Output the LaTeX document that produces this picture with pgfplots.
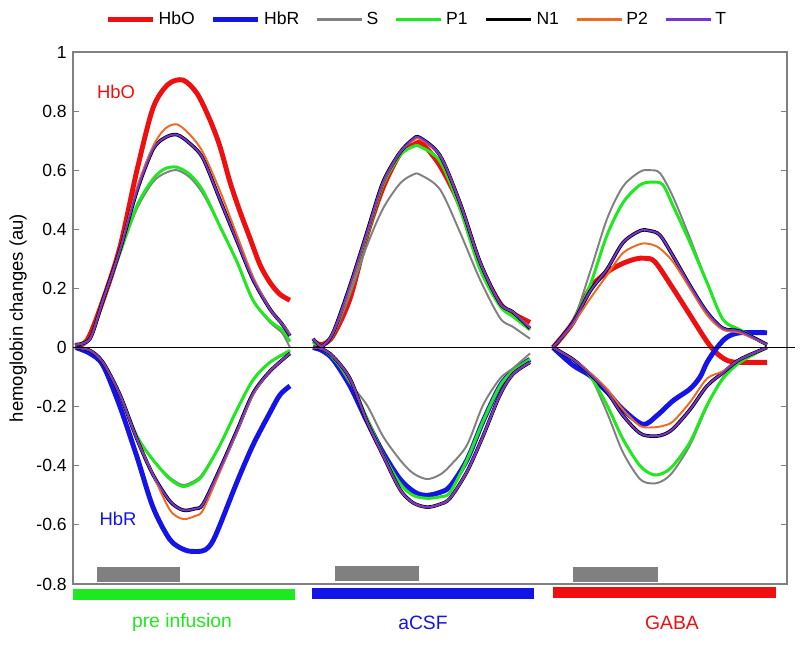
\documentclass[border=0pt]{standalone}
\usepackage{fontspec}
\setmainfont{Liberation Sans}
\usepackage{pgfplots}
\pgfplotsset{compat=1.18}

\definecolor{hboc}{RGB}{238,16,16}
\definecolor{hbrc}{RGB}{20,20,232}
\definecolor{sc}{RGB}{128,128,128}
\definecolor{ponec}{RGB}{30,232,30}
\definecolor{ptwoc}{RGB}{240,105,35}
\definecolor{tc}{RGB}{120,50,215}
\definecolor{spine}{RGB}{128,128,128}

\begin{document}
\begin{tikzpicture}
\begin{axis}[
    scale only axis,
    width=14.28cm, height=10.64cm,
    xmin=73, xmax=787, ymin=-0.8, ymax=1,
    xtick=\empty,
    ytick={-0.8,-0.6,-0.4,-0.2,0,0.2,0.4,0.6,0.8,1},
    yticklabel style={/pgf/number format/fixed, font=\fontsize{10}{12}\selectfont},
    /pgf/number format/assume math mode=true,
    tick align=inside,
    major tick length=0.12cm,
    axis line style={draw=spine, line width=0.7pt},
    tick style={draw=spine, line width=0.6pt},
    ylabel={hemoglobin changes (au)},
    every axis y label/.style={at={(rel axis cs:-0.077,0.5)}, rotate=90, anchor=center,
        font=\fontsize{10.5}{12}\selectfont},
    clip=false,
    unbounded coords=jump,
    legend columns=-1,
    legend style={at={(rel axis cs:0.483,1.061)}, anchor=center, draw=none, fill=none,
        font=\fontsize{10}{12}\selectfont,
        /tikz/every even column/.append style={column sep=0.26cm}},
    legend image code/.code={\draw[#1] (0cm,0cm) -- (0.9cm,0cm);},
]
\addlegendimage{color=hboc, line width=2.4pt}
\addlegendentry{HbO}
\addlegendimage{color=hbrc, line width=2.4pt}
\addlegendentry{HbR}
\addlegendimage{color=sc, line width=1.4pt}
\addlegendentry{S}
\addlegendimage{color=ponec, line width=1.5pt}
\addlegendentry{P1}
\addlegendimage{color=black, line width=2.2pt}
\addlegendentry{N1}
\addlegendimage{color=ptwoc, line width=1.4pt}
\addlegendentry{P2}
\addlegendimage{color=tc, line width=1.4pt}
\addlegendentry{T}

% HbO
\addplot[draw=hboc, line width=2.8pt, smooth, forget plot] coordinates {
  (76,0) (88,0.03) (103,0.16) (120,0.34) (137,0.60) (153,0.81) (168,0.89) (183,0.905)
  (197,0.86) (210,0.77) (220,0.68) (230,0.56) (240,0.46) (250,0.37) (260,0.28) (270,0.22)
  (280,0.18) (290,0.16)
  (300,nan)
  (314,0.02) (322,0.01) (333,0.04) (350,0.165) (367,0.38) (383,0.54) (400,0.655) (413,0.685)
  (422,0.69) (440,0.615) (460,0.48) (480,0.28) (500,0.15) (513,0.115) (530,0.085)
  (540,nan)
  (553,0) (573,0.085) (590,0.20) (607,0.255) (623,0.285) (636,0.30) (645,0.302) (655,0.29) (673,0.20)
  (690,0.11) (707,0.02) (717,-0.02) (728,-0.045) (740,-0.05) (767,-0.05)
};

% HbR
\addplot[draw=hbrc, line width=2.8pt, smooth, forget plot] coordinates {
  (76,0) (90,-0.02) (103,-0.06) (120,-0.20) (137,-0.37) (153,-0.54) (170,-0.65) (185,-0.685)
  (197,-0.69) (205,-0.685) (212,-0.66) (220,-0.60) (237,-0.455) (253,-0.33) (270,-0.22)
  (280,-0.16) (290,-0.13)
  (300,nan)
  (313,0) (322,-0.01) (333,-0.04) (350,-0.13) (367,-0.25) (383,-0.355) (400,-0.445) (415,-0.49)
  (427,-0.50) (440,-0.49) (450,-0.47) (467,-0.38) (483,-0.25) (500,-0.13) (513,-0.08) (530,-0.04)
  (540,nan)
  (553,0) (573,-0.06) (590,-0.095) (607,-0.15) (623,-0.21) (643,-0.26) (657,-0.23) (673,-0.18)
  (690,-0.14) (700,-0.10) (707,-0.05) (717,0) (727,0.035) (740,0.05) (767,0.05)
};

% S
\addplot[draw=sc, line width=1.1pt, smooth, forget plot] coordinates {
  (75,0) (90,0.03) (103,0.16) (120,0.32) (137,0.47) (153,0.56) (165,0.59) (177,0.60) (190,0.575)
  (203,0.52) (220,0.41) (237,0.29) (253,0.16) (270,0.085) (282,0.05) (290,0)
  (295,nan)
  (75,0) (90,-0.01) (103,-0.05) (120,-0.16) (137,-0.30) (153,-0.38) (170,-0.44) (183,-0.465)
  (195,-0.45) (203,-0.425) (220,-0.33) (237,-0.21) (253,-0.11) (270,-0.05) (290,-0.015)
  (300,nan)
  (313,0.02) (322,0.005) (333,0.04) (350,0.18) (367,0.345) (383,0.47) (400,0.555) (413,0.585)
  (420,0.585) (440,0.535) (460,0.39) (480,0.23) (500,0.10) (513,0.07) (530,0.03)
  (535,nan)
  (313,0) (322,-0.005) (333,-0.03) (350,-0.12) (367,-0.195) (383,-0.30) (400,-0.38) (413,-0.425)
  (427,-0.445) (440,-0.43) (450,-0.40) (467,-0.33) (483,-0.195) (500,-0.105) (513,-0.07) (530,-0.02)
  (540,nan)
  (553,0) (573,0.09) (590,0.255) (607,0.435) (623,0.545) (640,0.595) (650,0.60) (660,0.59)
  (673,0.51) (690,0.37) (707,0.22) (723,0.095) (740,0.055) (767,0.01)
  (770,nan)
  (553,0) (573,-0.04) (590,-0.095) (607,-0.22) (623,-0.355) (640,-0.445) (653,-0.46) (663,-0.45)
  (673,-0.42) (690,-0.33) (707,-0.20) (723,-0.10) (740,-0.05) (767,0)
};

% P1
\addplot[draw=ponec, line width=1.7pt, smooth, forget plot] coordinates {
  (75,0.01) (90,0.03) (103,0.16) (120,0.32) (137,0.48) (153,0.57) (165,0.605) (177,0.61)
  (190,0.585) (203,0.53) (220,0.41) (237,0.29) (253,0.16) (270,0.09) (282,0.06) (290,0.02)
  (295,nan)
  (75,0) (90,-0.01) (103,-0.05) (120,-0.16) (137,-0.30) (153,-0.38) (170,-0.445) (183,-0.47)
  (195,-0.455) (203,-0.43) (220,-0.33) (237,-0.21) (253,-0.11) (270,-0.05) (290,-0.01)
  (300,nan)
  (313,0.02) (322,0.005) (333,0.05) (350,0.20) (367,0.38) (383,0.55) (400,0.65) (413,0.68)
  (420,0.68) (440,0.63) (460,0.47) (480,0.265) (500,0.14) (513,0.105) (530,0.06)
  (535,nan)
  (313,0) (322,-0.005) (333,-0.035) (350,-0.11) (367,-0.24) (383,-0.36) (400,-0.46) (413,-0.50)
  (427,-0.51) (440,-0.505) (450,-0.49) (467,-0.38) (483,-0.25) (500,-0.13) (513,-0.08) (530,-0.04)
  (540,nan)
  (553,0) (573,0.085) (590,0.21) (607,0.38) (623,0.49) (640,0.55) (653,0.56) (663,0.55)
  (673,0.48) (690,0.355) (707,0.22) (723,0.095) (740,0.06) (767,0.01)
  (770,nan)
  (553,0) (573,-0.04) (590,-0.095) (607,-0.195) (623,-0.31) (640,-0.40) (653,-0.43) (663,-0.425)
  (673,-0.40) (690,-0.32) (707,-0.195) (723,-0.105) (740,-0.05) (767,0)
};

% N1
\addplot[draw=black, line width=2pt, smooth, forget plot] coordinates {
  (75,0.01) (90,0.03) (103,0.16) (120,0.33) (137,0.53) (153,0.67) (165,0.71) (177,0.72)
  (190,0.69) (203,0.64) (220,0.50) (237,0.36) (253,0.23) (270,0.13) (282,0.08) (290,0.04)
  (295,nan)
  (75,0) (90,-0.01) (103,-0.05) (120,-0.16) (137,-0.31) (153,-0.43) (170,-0.52) (183,-0.55)
  (195,-0.545) (203,-0.53) (220,-0.41) (237,-0.28) (253,-0.155) (270,-0.08) (290,-0.02)
  (300,nan)
  (313,0.03) (322,0.005) (333,0.05) (350,0.21) (367,0.39) (383,0.56) (400,0.66) (413,0.705)
  (420,0.71) (440,0.65) (460,0.49) (480,0.29) (500,0.15) (513,0.12) (530,0.065)
  (535,nan)
  (313,0) (322,-0.005) (333,-0.03) (350,-0.105) (367,-0.25) (383,-0.365) (400,-0.48) (413,-0.525)
  (427,-0.54) (440,-0.53) (450,-0.51) (467,-0.42) (483,-0.30) (500,-0.16) (513,-0.09) (530,-0.05)
  (540,nan)
  (553,0) (573,0.085) (590,0.19) (607,0.265) (623,0.355) (640,0.395) (650,0.395) (660,0.38)
  (673,0.31) (690,0.21) (707,0.12) (723,0.065) (740,0.055) (767,0.01)
  (770,nan)
  (553,0) (573,-0.04) (590,-0.09) (607,-0.15) (623,-0.23) (640,-0.29) (653,-0.30) (663,-0.295)
  (673,-0.275) (690,-0.21) (707,-0.13) (723,-0.085) (740,-0.04) (767,0)
};

% P2
\addplot[draw=ptwoc, line width=1.1pt, smooth, forget plot] coordinates {
  (75,0.01) (90,0.03) (103,0.16) (120,0.33) (137,0.54) (153,0.68) (165,0.74) (177,0.755)
  (190,0.72) (203,0.66) (220,0.53) (237,0.38) (253,0.24) (270,0.13) (282,0.08) (290,0.045)
  (295,nan)
  (75,0) (90,-0.01) (103,-0.05) (120,-0.16) (137,-0.31) (153,-0.43) (170,-0.55) (183,-0.58)
  (195,-0.57) (203,-0.55) (220,-0.42) (237,-0.285) (253,-0.16) (270,-0.08) (290,-0.02)
  (300,nan)
  (313,0.03) (322,0.005) (333,0.05) (350,0.20) (367,0.385) (383,0.555) (400,0.66) (413,0.70)
  (420,0.705) (440,0.65) (460,0.49) (480,0.29) (500,0.15) (513,0.12) (530,0.07)
  (535,nan)
  (313,0) (322,-0.005) (333,-0.03) (350,-0.105) (367,-0.25) (383,-0.365) (400,-0.48) (413,-0.525)
  (427,-0.54) (440,-0.53) (450,-0.51) (467,-0.42) (483,-0.30) (500,-0.16) (513,-0.09) (530,-0.05)
  (540,nan)
  (553,0) (573,0.08) (590,0.165) (607,0.245) (623,0.32) (640,0.35) (650,0.35) (660,0.335)
  (673,0.29) (690,0.20) (707,0.11) (723,0.06) (740,0.05) (767,0.01)
  (770,nan)
  (553,0) (573,-0.04) (590,-0.085) (607,-0.14) (623,-0.21) (640,-0.265) (653,-0.27) (663,-0.265)
  (673,-0.25) (690,-0.185) (707,-0.105) (723,-0.08) (740,-0.04) (767,0)
};

% T
\addplot[draw=tc, line width=1.1pt, smooth, forget plot] coordinates {
  (75,0.01) (90,0.03) (103,0.16) (120,0.33) (137,0.53) (153,0.67) (165,0.71) (177,0.72)
  (190,0.69) (203,0.64) (220,0.50) (237,0.36) (253,0.23) (270,0.13) (282,0.08) (290,0.04)
  (295,nan)
  (75,0) (90,-0.01) (103,-0.05) (120,-0.16) (137,-0.31) (153,-0.43) (170,-0.52) (183,-0.55)
  (195,-0.545) (203,-0.53) (220,-0.41) (237,-0.28) (253,-0.155) (270,-0.08) (290,-0.02)
  (300,nan)
  (313,0.03) (322,0.005) (333,0.05) (350,0.21) (367,0.39) (383,0.56) (400,0.66) (413,0.705)
  (420,0.71) (440,0.65) (460,0.49) (480,0.29) (500,0.15) (513,0.12) (530,0.065)
  (535,nan)
  (313,0) (322,-0.005) (333,-0.03) (350,-0.105) (367,-0.25) (383,-0.365) (400,-0.48) (413,-0.525)
  (427,-0.54) (440,-0.53) (450,-0.51) (467,-0.42) (483,-0.30) (500,-0.16) (513,-0.09) (530,-0.05)
  (540,nan)
  (553,0) (573,0.085) (590,0.19) (607,0.265) (623,0.355) (640,0.395) (650,0.395) (660,0.38)
  (673,0.31) (690,0.21) (707,0.12) (723,0.065) (740,0.055) (767,0.01)
  (770,nan)
  (553,0) (573,-0.04) (590,-0.09) (607,-0.15) (623,-0.23) (640,-0.29) (653,-0.30) (663,-0.295)
  (673,-0.275) (690,-0.21) (707,-0.13) (723,-0.085) (740,-0.04) (767,0)
};

% zero line
\addplot[black, line width=0.9pt, forget plot] coordinates {(73,0) (795,0)};

% stimulus bars
\addplot[fill=sc, draw=none, forget plot] coordinates {(97,-0.742) (180,-0.742) (180,-0.793) (97,-0.793)} -- cycle;
\addplot[fill=sc, draw=none, forget plot] coordinates {(335,-0.738) (419,-0.738) (419,-0.790) (335,-0.790)} -- cycle;
\addplot[fill=sc, draw=none, forget plot] coordinates {(573,-0.742) (658,-0.742) (658,-0.793) (573,-0.793)} -- cycle;

% condition bars below the axis
\addplot[fill=ponec, draw=none, forget plot] coordinates {(73,-0.817) (295,-0.817) (295,-0.854) (73,-0.854)} -- cycle;
\addplot[fill=hbrc, draw=none, forget plot] coordinates {(312,-0.814) (534,-0.814) (534,-0.851) (312,-0.851)} -- cycle;
\addplot[fill=hboc, draw=none, forget plot] coordinates {(553,-0.810) (776,-0.810) (776,-0.847) (553,-0.847)} -- cycle;

\node[text=hboc, font=\fontsize{10.5}{12}\selectfont] at (axis cs:116,0.865) {HbO};
\node[text=hbrc, font=\fontsize{10.5}{12}\selectfont] at (axis cs:118,-0.58) {HbR};
\node[text=ponec, font=\fontsize{11}{13}\selectfont] at (axis cs:182,-0.93) {pre infusion};
\node[text=hbrc, font=\fontsize{11}{13}\selectfont] at (axis cs:423,-0.93) {aCSF};
\node[text=hboc, font=\fontsize{11}{13}\selectfont] at (axis cs:672,-0.93) {GABA};

\path (rel axis cs:-0.1022,-0.1147) rectangle (rel axis cs:1.0182,1.0977);
\end{axis}
\end{tikzpicture}
\end{document}
